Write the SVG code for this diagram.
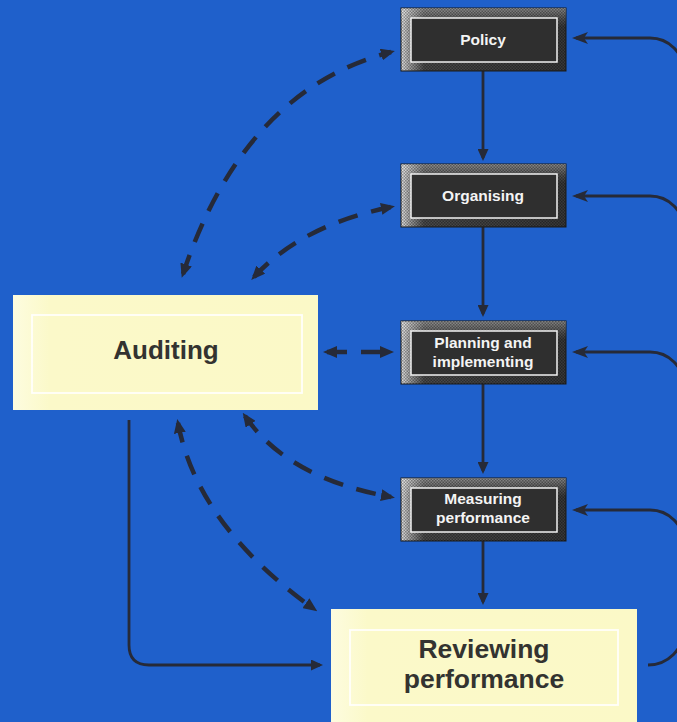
<svg xmlns="http://www.w3.org/2000/svg" width="677" height="722" viewBox="0 0 677 722">
<defs>
  <linearGradient id="hg" x1="0" y1="0" x2="1" y2="0">
    <stop offset="0" stop-color="#e6e6e6"/>
    <stop offset="0.06" stop-color="#9a9a9a"/>
    <stop offset="0.14" stop-color="#4a4a4a"/>
    <stop offset="1" stop-color="#383838"/>
  </linearGradient>
  <linearGradient id="vg" x1="0" y1="0" x2="0" y2="1">
    <stop offset="0" stop-color="#ffffff" stop-opacity="0.4"/>
    <stop offset="0.18" stop-color="#ffffff" stop-opacity="0.12"/>
    <stop offset="0.3" stop-color="#ffffff" stop-opacity="0"/>
    <stop offset="1" stop-color="#ffffff" stop-opacity="0"/>
  </linearGradient>
  <pattern id="dots" width="3" height="3" patternUnits="userSpaceOnUse">
    <rect width="3" height="3" fill="none"/>
    <rect width="1.5" height="1.5" fill="#000" fill-opacity="0.35"/>
    <rect x="1.5" y="1.5" width="1.5" height="1.5" fill="#000" fill-opacity="0.35"/>
  </pattern>
  <linearGradient id="yg" x1="0" y1="0" x2="1" y2="0">
    <stop offset="0" stop-color="#fdfcdf"/>
    <stop offset="0.12" stop-color="#fbf9c9"/>
    <stop offset="1" stop-color="#fbf9c7"/>
  </linearGradient>
  <marker id="ah" viewBox="0 0 14 12" refX="10" refY="6" markerWidth="14" markerHeight="12" markerUnits="userSpaceOnUse" orient="auto-start-reverse">
    <path d="M0,0 L14,6 L0,12 z" fill="#262a38"/>
  </marker>
  <marker id="as" viewBox="0 0 12 11" refX="9" refY="5.5" markerWidth="12" markerHeight="11" markerUnits="userSpaceOnUse" orient="auto-start-reverse">
    <path d="M0,0 L12,5.5 L0,11 z" fill="#262a38"/>
  </marker>
  <marker id="af" viewBox="0 0 16 12" refX="12" refY="6" markerWidth="16" markerHeight="12" markerUnits="userSpaceOnUse" orient="auto-start-reverse">
    <path d="M0,0 L16,6 L0,12 L4,6 z" fill="#262a38"/>
  </marker>
</defs>
<style>
  .dk-outer { stroke: #1a1a1a; stroke-width: 1; }
  .dk-inner { fill: #2f2f2f; stroke: #f2f2f2; stroke-width: 1.5; }
  .dk-text { font-family: "Liberation Sans", Arial, sans-serif; font-weight: bold; font-size: 15.5px; fill: #f4f4f4; text-anchor: middle; }
  .yl-outer { fill: url(#yg); }
  .yl-inner { fill: none; stroke: #ffffff; stroke-width: 1.8; stroke-opacity: 0.9; }
  .yl-text { font-family: "Liberation Sans", Arial, sans-serif; font-weight: bold; fill: #333330; text-anchor: middle; }
  .solid { fill: none; stroke: #262a38; stroke-width: 2.8; }
  .feedback { fill: none; stroke: #262a38; stroke-width: 3; }
  .dash { fill: none; stroke: #262a38; stroke-width: 4.5; stroke-dasharray: 20 14; }
</style>
<rect width="677" height="722" fill="#1f60cb"/>

<g id="connectors">
  <!-- vertical flow -->
  <path class="solid" d="M483 71 L483 158" marker-end="url(#as)"/>
  <path class="solid" d="M483 227 L483 314" marker-end="url(#as)"/>
  <path class="solid" d="M483 384 L483 471" marker-end="url(#as)"/>
  <path class="solid" d="M483 541 L483 602" marker-end="url(#as)"/>
  <!-- auditing to reviewing -->
  <path class="solid" d="M129 420 L129 645 Q129 665 149 665 L320 665" marker-end="url(#as)"/>
  <!-- feedback from reviewing -->
  <path class="feedback" d="M684 110 L684 72 A34 34 0 0 0 650 38 L576 38" marker-end="url(#af)"/>
  <path class="feedback" d="M684 260 L684 230 A34 34 0 0 0 650 196 L576 196" marker-end="url(#af)"/>
  <path class="feedback" d="M684 420 L684 386 A34 34 0 0 0 650 352 L576 352" marker-end="url(#af)"/>
  <path class="feedback" d="M684 580 L684 544 A34 34 0 0 0 650 510 L576 510" marker-end="url(#af)"/>
  <path class="feedback" d="M648 665 A36 36 0 0 0 684 629 L684 580"/>
  <!-- dashed audit links -->
  <path class="dash" d="M183 274 Q244 90 391 52" marker-start="url(#ah)" marker-end="url(#ah)"/>
  <path class="dash" d="M254 277 Q302 225 391 207" marker-start="url(#ah)" marker-end="url(#ah)"/>
  <path class="dash" d="M327 352 L390 352" marker-start="url(#ah)" marker-end="url(#ah)" stroke-dasharray="20 9"/>
  <path class="dash" d="M245 416 Q287 478 391 497" marker-start="url(#ah)" marker-end="url(#ah)"/>
  <path class="dash" d="M178 423 Q197 525 314 609" marker-start="url(#ah)" marker-end="url(#ah)"/>
</g>

<g id="policy">
  <rect class="dk-outer" x="401" y="8" width="165" height="63" fill="url(#hg)"/>
  <rect x="401" y="8" width="165" height="63" fill="url(#vg)"/>
  <rect x="401" y="8" width="165" height="63" fill="url(#dots)"/>
  <rect class="dk-inner" x="411" y="18" width="146" height="44"/>
  <text class="dk-text" x="483" y="45">Policy</text>
</g>

<g id="organising">
  <rect class="dk-outer" x="401" y="164" width="165" height="63" fill="url(#hg)"/>
  <rect x="401" y="164" width="165" height="63" fill="url(#vg)"/>
  <rect x="401" y="164" width="165" height="63" fill="url(#dots)"/>
  <rect class="dk-inner" x="411" y="174" width="146" height="44"/>
  <text class="dk-text" x="483" y="201">Organising</text>
</g>

<g id="planning">
  <rect class="dk-outer" x="401" y="321" width="165" height="63" fill="url(#hg)"/>
  <rect x="401" y="321" width="165" height="63" fill="url(#vg)"/>
  <rect x="401" y="321" width="165" height="63" fill="url(#dots)"/>
  <rect class="dk-inner" x="411" y="331" width="146" height="44"/>
  <text class="dk-text" x="483" y="348">Planning and</text>
  <text class="dk-text" x="483" y="367">implementing</text>
</g>

<g id="measuring">
  <rect class="dk-outer" x="401" y="478" width="165" height="63" fill="url(#hg)"/>
  <rect x="401" y="478" width="165" height="63" fill="url(#vg)"/>
  <rect x="401" y="478" width="165" height="63" fill="url(#dots)"/>
  <rect class="dk-inner" x="411" y="488" width="146" height="44"/>
  <text class="dk-text" x="483" y="504">Measuring</text>
  <text class="dk-text" x="483" y="523">performance</text>
</g>

<g id="auditing">
  <rect class="yl-outer" x="13" y="295" width="305" height="115"/>
  <rect class="yl-inner" x="32" y="315" width="270" height="78"/>
  <text class="yl-text" x="166" y="359" font-size="26">Auditing</text>
</g>

<g id="reviewing">
  <rect class="yl-outer" x="331" y="609" width="306" height="120"/>
  <rect class="yl-inner" x="350" y="630" width="268" height="75"/>
  <text class="yl-text" x="484" y="658" font-size="26.5">Reviewing</text>
  <text class="yl-text" x="484" y="688" font-size="26.5">performance</text>
</g>
</svg>
